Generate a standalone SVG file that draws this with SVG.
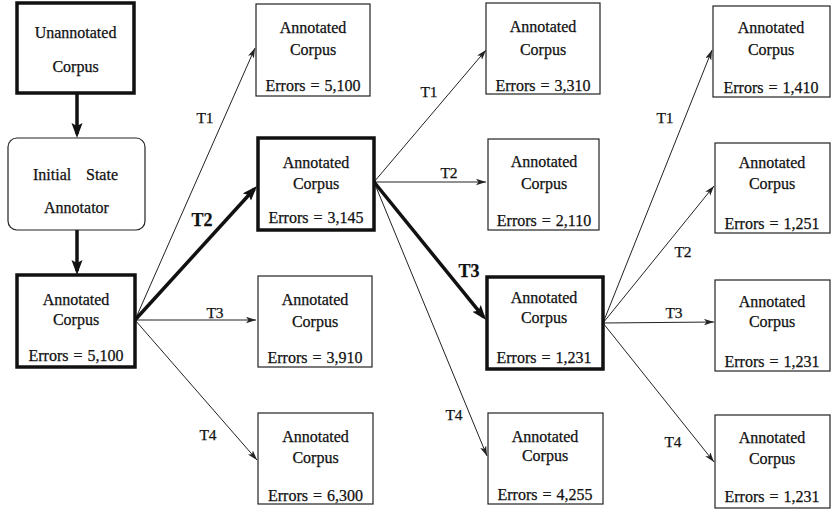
<svg xmlns="http://www.w3.org/2000/svg" width="834" height="514" viewBox="0 0 834 514">
  <style>
    text { font-family: "Liberation Serif", "Times New Roman", serif; font-size: 16px; fill: #111; stroke: #111; stroke-width: 0.25; }
    .c { text-anchor: middle; }
    .err { word-spacing: 1px; }
    .box { fill: #fff; stroke: #222; stroke-width: 1.2; }
    .thick { fill: #fff; stroke: #111; stroke-width: 3.5; }
    .wire { fill: none; stroke: #222; stroke-width: 1; marker-end: url(#tip); }
    .bold-wire { fill: none; stroke: #111; stroke-width: 3.5; marker-end: url(#bigtip); }
    .lbl { text-anchor: middle; font-size: 15.5px; }
    .blbl { text-anchor: middle; font-weight: bold; font-size: 18px; }
  </style>
  <defs>
    <marker id="tip" markerUnits="userSpaceOnUse" markerWidth="11" markerHeight="8" refX="10" refY="3.2" orient="auto">
      <path d="M0,0 L10,3.2 L0,6.4 L2.5,3.2 z" fill="#222"/>
    </marker>
    <marker id="bigtip" markerUnits="userSpaceOnUse" markerWidth="16" markerHeight="12" refX="11" refY="5.5" orient="auto">
      <path d="M0,0 L15,5.5 L0,11 L3,5.5 z" fill="#111"/>
    </marker>
  </defs>
  <rect width="834" height="514" fill="#fff"/>

  <!-- connectors -->
  <g id="connectors">
    <line class="bold-wire" x1="77" y1="93" x2="77" y2="134"/>
    <line class="bold-wire" x1="77" y1="230" x2="77" y2="271"/>

    <line class="wire" x1="135" y1="320" x2="255" y2="48"/>
    <line class="bold-wire" x1="135" y1="320" x2="254.3" y2="189"/>
    <line class="wire" x1="135" y1="320" x2="256" y2="320"/>
    <line class="wire" x1="135" y1="320" x2="257" y2="460"/>

    <line class="wire" x1="374" y1="182" x2="486" y2="50"/>
    <line class="wire" x1="374" y1="182" x2="486" y2="182"/>
    <line class="bold-wire" x1="374" y1="182" x2="483.5" y2="316.9"/>
    <line class="wire" x1="374" y1="182" x2="487" y2="456"/>

    <line class="wire" x1="603" y1="323" x2="712" y2="50"/>
    <line class="wire" x1="603" y1="323" x2="714" y2="186"/>
    <line class="wire" x1="603" y1="323" x2="714" y2="322"/>
    <line class="wire" x1="603" y1="323" x2="714" y2="462"/>

    <text class="lbl" x="205" y="123">T1</text>
    <text class="blbl" x="202" y="226">T2</text>
    <text class="lbl" x="215" y="318">T3</text>
    <text class="lbl" x="208" y="440">T4</text>

    <text class="lbl" x="429" y="97">T1</text>
    <text class="lbl" x="449" y="178">T2</text>
    <text class="blbl" x="469" y="277">T3</text>
    <text class="lbl" x="454" y="420">T4</text>

    <text class="lbl" x="665" y="123">T1</text>
    <text class="lbl" x="683" y="257">T2</text>
    <text class="lbl" x="674" y="318">T3</text>
    <text class="lbl" x="673" y="447">T4</text>
  </g>

  <!-- first column -->
  <g id="unannotated">
    <rect class="thick" x="17" y="3" width="117" height="90"/>
    <text class="c" x="75.5" y="38">Unannotated</text>
    <text class="c" x="75.5" y="72">Corpus</text>
  </g>
  <g id="initial-state-annotator">
    <rect class="box" x="8" y="138" width="137" height="92" rx="9"/>
    <text x="33" y="180">Initial</text>
    <text x="118" y="180" text-anchor="end">State</text>
    <text class="c" x="76.5" y="213">Annotator</text>
  </g>
  <g id="annotated-0">
    <rect class="thick" x="17" y="275" width="118" height="92"/>
    <text class="c" x="76" y="305">Annotated</text>
    <text class="c" x="76" y="325">Corpus</text>
    <text class="c err" x="76" y="361">Errors = 5,100</text>
  </g>

  <!-- second column -->
  <g id="annotated-1-t1">
    <rect class="box" x="256" y="4" width="114" height="92"/>
    <text class="c" x="313" y="33">Annotated</text>
    <text class="c" x="313" y="55">Corpus</text>
    <text class="c err" x="313" y="91">Errors = 5,100</text>
  </g>
  <g id="annotated-1-t2">
    <rect class="thick" x="258" y="138" width="116" height="92"/>
    <text class="c" x="316" y="168">Annotated</text>
    <text class="c" x="316" y="189">Corpus</text>
    <text class="c err" x="316" y="223">Errors = 3,145</text>
  </g>
  <g id="annotated-1-t3">
    <rect class="box" x="258" y="276" width="114" height="91"/>
    <text class="c" x="315" y="305">Annotated</text>
    <text class="c" x="315" y="327">Corpus</text>
    <text class="c err" x="315" y="363">Errors = 3,910</text>
  </g>
  <g id="annotated-1-t4">
    <rect class="box" x="258" y="413" width="115" height="91"/>
    <text class="c" x="315.5" y="442">Annotated</text>
    <text class="c" x="315.5" y="463">Corpus</text>
    <text class="c err" x="315.5" y="501">Errors = 6,300</text>
  </g>

  <!-- third column -->
  <g id="annotated-2-t1">
    <rect class="box" x="486" y="3" width="114" height="91"/>
    <text class="c" x="543" y="32">Annotated</text>
    <text class="c" x="543" y="55">Corpus</text>
    <text class="c err" x="543" y="91">Errors = 3,310</text>
  </g>
  <g id="annotated-2-t2">
    <rect class="box" x="488" y="139" width="111" height="91"/>
    <text class="c" x="544" y="167">Annotated</text>
    <text class="c" x="544" y="189">Corpus</text>
    <text class="c err" x="544" y="226">Errors = 2,110</text>
  </g>
  <g id="annotated-2-t3">
    <rect class="thick" x="487" y="277" width="116" height="92"/>
    <text class="c" x="544" y="303">Annotated</text>
    <text class="c" x="544" y="323">Corpus</text>
    <text class="c err" x="544" y="363">Errors = 1,231</text>
  </g>
  <g id="annotated-2-t4">
    <rect class="box" x="488" y="413" width="115" height="91"/>
    <text class="c" x="545" y="442">Annotated</text>
    <text class="c" x="545" y="461">Corpus</text>
    <text class="c err" x="545" y="500">Errors = 4,255</text>
  </g>

  <!-- fourth column -->
  <g id="annotated-3-t1">
    <rect class="box" x="713" y="6" width="117" height="91"/>
    <text class="c" x="771" y="33">Annotated</text>
    <text class="c" x="771" y="55">Corpus</text>
    <text class="c err" x="771" y="93">Errors = 1,410</text>
  </g>
  <g id="annotated-3-t2">
    <rect class="box" x="715" y="143" width="115" height="90"/>
    <text class="c" x="772" y="168">Annotated</text>
    <text class="c" x="772" y="189">Corpus</text>
    <text class="c err" x="772" y="229">Errors = 1,251</text>
  </g>
  <g id="annotated-3-t3">
    <rect class="box" x="715" y="280" width="115" height="91"/>
    <text class="c" x="772" y="307">Annotated</text>
    <text class="c" x="772" y="327">Corpus</text>
    <text class="c err" x="772" y="367">Errors = 1,231</text>
  </g>
  <g id="annotated-3-t4">
    <rect class="box" x="715" y="415" width="115" height="93"/>
    <text class="c" x="772" y="443">Annotated</text>
    <text class="c" x="772" y="464">Corpus</text>
    <text class="c err" x="772" y="502">Errors = 1,231</text>
  </g>
</svg>
